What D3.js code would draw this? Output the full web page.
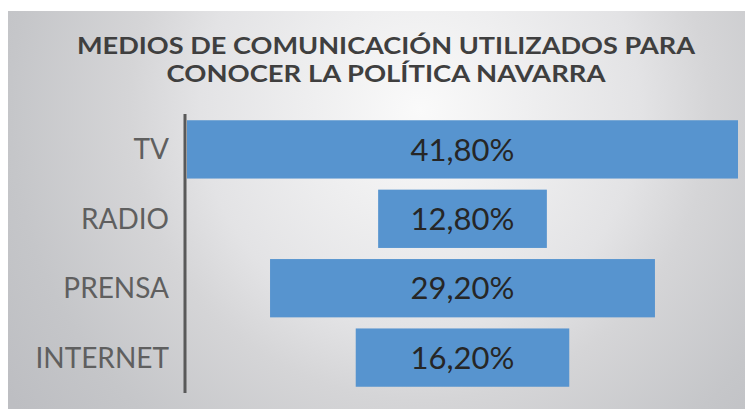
<!DOCTYPE html>
<html>
<head>
<meta charset="utf-8">
<script src="https://cdn.jsdelivr.net/npm/d3@7"></script>
<style>
  html, body { margin: 0; padding: 0; background: #ffffff; }
  svg { display: block; }
</style>
</head>
<body>
<div id="chart"></div>
<script>
const categories = ["TV", "RADIO", "PRENSA", "INTERNET"];
const values = [41.8, 12.8, 29.2, 16.2];
const valueLabels = ["41,80%", "12,80%", "29,20%", "16,20%"];
const titleLines = ["MEDIOS DE COMUNICACIÓN UTILIZADOS PARA", "CONOCER LA POLÍTICA NAVARRA"];

const W = 745, H = 409;
const svg = d3.select("#chart").append("svg").attr("width", W).attr("height", H);

const defs = svg.append("defs");
const grad = defs.append("radialGradient")
  .attr("id", "bg").attr("gradientUnits", "userSpaceOnUse")
  .attr("cx", 420).attr("cy", 110).attr("r", 500);
[["0", "#fafafa"], ["0.44", "#e3e3e5"], ["0.58", "#d5d5d7"], ["0.82", "#c5c6c9"], ["1", "#bdbec2"]]
  .forEach(([o, c]) => grad.append("stop").attr("offset", o).attr("stop-color", c));

svg.append("rect").attr("x", 8).attr("y", 11).attr("width", W - 8).attr("height", H - 11)
  .attr("fill", "url(#bg)");

// Title
const titleWidths = [618, 439];
svg.append("g").selectAll("text").data(titleLines).join("text")
  .attr("x", 386)
  .attr("y", (d, i) => 53.5 + i * 28)
  .attr("text-anchor", "middle")
  .attr("font-family", "Lato, 'Open Sans', sans-serif")
  .attr("font-weight", "bold")
  .attr("font-size", 22.5)
  .attr("fill", "#3f3f3f")
  .attr("textLength", (d, i) => titleWidths[i])
  .attr("lengthAdjust", "spacingAndGlyphs")
  .text(d => d);

const axisX = 185;
const y = d3.scaleBand().domain(categories).range([114, 393]).paddingInner(0.16).paddingOuter(0.09);
const x = d3.scaleLinear().domain([0, d3.max(values)]).range([0, 551]);
const center = axisX + 2 + x(d3.max(values)) / 2;

const data = categories.map((c, i) => ({ c, v: values[i], label: valueLabels[i] }));

svg.append("g").selectAll("rect").data(data).join("rect")
  .attr("x", d => center - x(d.v) / 2)
  .attr("y", d => y(d.c))
  .attr("width", d => x(d.v))
  .attr("height", y.bandwidth())
  .attr("fill", "#5794cf");

svg.append("line")
  .attr("x1", axisX).attr("x2", axisX)
  .attr("y1", 114).attr("y2", 393)
  .attr("stroke", "#595959").attr("stroke-width", 3);

svg.append("g").selectAll("text").data(data).join("text")
  .attr("x", 169)
  .attr("y", d => y(d.c) + y.bandwidth() / 2)
  .attr("dy", "0.36em")
  .attr("text-anchor", "end")
  .attr("font-family", "Lato, sans-serif")
  .attr("font-size", 28)
  .attr("fill", "#5f5f5f")
  .text(d => d.c);

svg.append("g").selectAll("text").data(data).join("text")
  .attr("x", center)
  .attr("y", d => y(d.c) + y.bandwidth() / 2)
  .attr("dy", "0.36em")
  .attr("text-anchor", "middle")
  .attr("font-family", "Lato, sans-serif")
  .attr("font-size", 31)
  .attr("fill", "#262626")
  .text(d => d.label);
</script>
</body>
</html>
